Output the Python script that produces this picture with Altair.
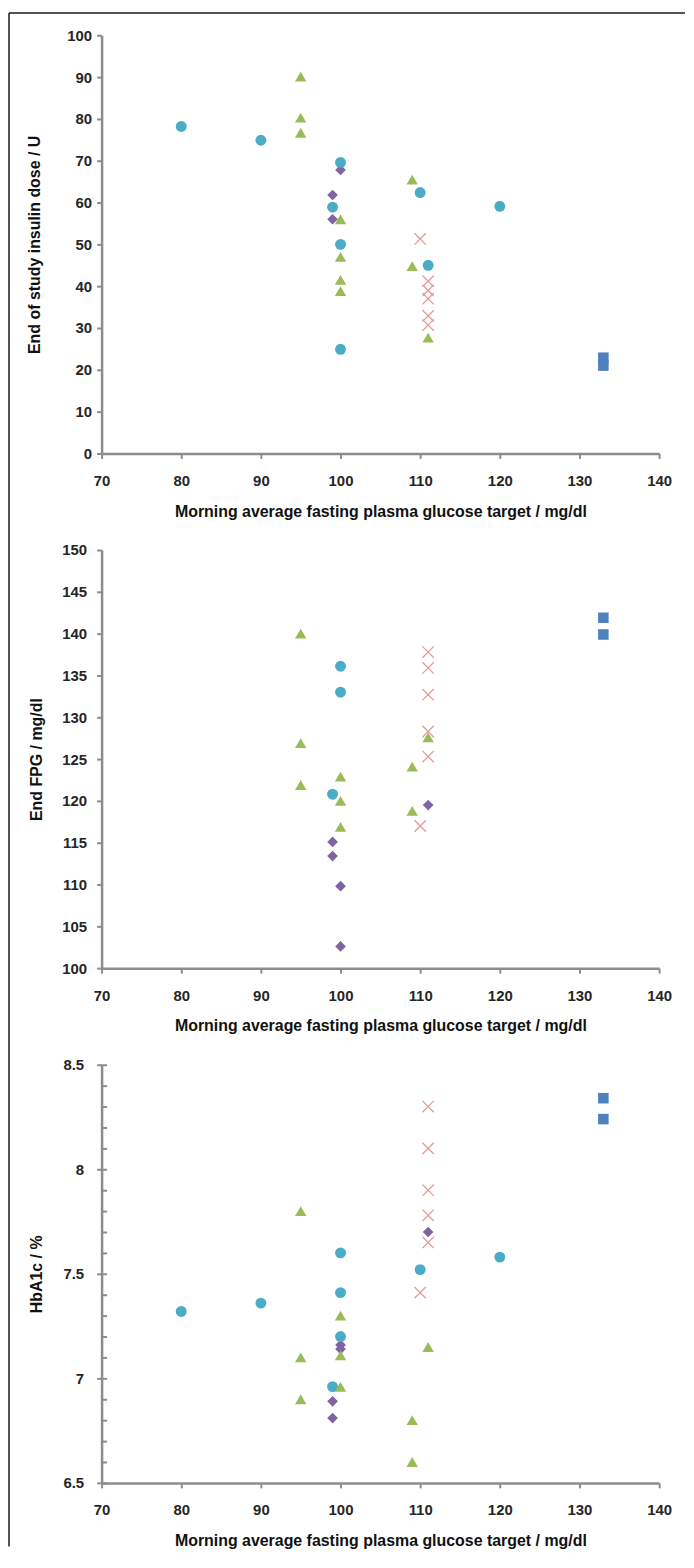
import altair as alt
import pandas as pd

# ---------------- data ----------------
X_TICKS = [70, 80, 90, 100, 110, 120, 130, 140]
X_TITLE = "Morning average fasting plasma glucose target / mg/dl"

# Panel 1: End of study insulin dose / U
p1_circle_x = [80, 90, 100, 99, 100, 100, 110, 111, 120]
p1_circle_y = [78.2, 74.9, 69.6, 58.9, 50.0, 24.9, 62.4, 45.0, 59.1]
p1_triangle_x = [95, 95, 95, 100, 100, 100, 100, 109, 109, 111]
p1_triangle_y = [90.1, 80.3, 76.7, 56.0, 47.0, 41.5, 38.8, 65.5, 44.8, 27.7]
p1_diamond_x = [100, 99, 99]
p1_diamond_y = [67.8, 61.8, 56.0]
p1_cross_x = [110, 111, 111, 111, 111, 111]
p1_cross_y = [51.3, 41.2, 39.0, 37.0, 32.9, 30.7]
p1_square_x = [133, 133]
p1_square_y = [22.9, 21.0]
p1_y_ticks = [0, 10, 20, 30, 40, 50, 60, 70, 80, 90, 100]

# Panel 2: End FPG / mg/dl
p2_circle_x = [100, 100, 99]
p2_circle_y = [136.1, 133.0, 120.8]
p2_triangle_x = [95, 95, 95, 100, 100, 100, 109, 109, 111]
p2_triangle_y = [140.0, 126.9, 121.9, 122.9, 120.0, 116.9, 124.1, 118.8, 127.6]
p2_diamond_x = [99, 99, 100, 100, 111]
p2_diamond_y = [115.1, 113.4, 109.8, 102.6, 119.5]
p2_cross_x = [111, 111, 111, 111, 111, 110]
p2_cross_y = [137.8, 135.9, 132.7, 128.3, 125.3, 117.0]
p2_square_x = [133, 133]
p2_square_y = [141.9, 139.9]
p2_y_ticks = [100, 105, 110, 115, 120, 125, 130, 135, 140, 145, 150]

# Panel 3: HbA1c / %
p3_circle_x = [80, 90, 100, 100, 100, 99, 110, 120]
p3_circle_y = [7.32, 7.36, 7.60, 7.41, 7.20, 6.96, 7.52, 7.58]
p3_triangle_x = [95, 95, 95, 100, 100, 100, 109, 109, 111]
p3_triangle_y = [7.80, 7.10, 6.90, 7.30, 7.11, 6.96, 6.80, 6.60, 7.15]
p3_diamond_x = [100, 100, 99, 99, 111]
p3_diamond_y = [7.16, 7.14, 6.89, 6.81, 7.70]
p3_cross_x = [111, 111, 111, 111, 111, 110]
p3_cross_y = [8.30, 8.10, 7.90, 7.78, 7.65, 7.41]
p3_square_x = [133, 133]
p3_square_y = [8.34, 8.24]
p3_y_ticks = [6.5, 7, 7.5, 8, 8.5]
p3_minor_ticks = [6.5, 6.6, 6.7, 6.8, 6.9, 7.0, 7.1, 7.2, 7.3, 7.4, 7.5,
                  7.6, 7.7, 7.8, 7.9, 8.0, 8.1, 8.2, 8.3, 8.4, 8.5]

# ---------------- style ----------------
FONT = "Liberation Sans"
GREY = "#8c8c8c"
W, H = 560, 420
CROSS = "M-1,-1L1,1M-1,1L1,-1"

STYLES = {
    "diamond": dict(shape="diamond", filled=True, color="#8064A2", size=115),
    "circle": dict(shape="circle", filled=True, color="#4BACC6", size=120),
    "triangle": dict(shape="triangle-up", filled=True, color="#9BBB59", size=130),
    "cross": dict(shape=CROSS, filled=False, color="#E69A9A", size=130, strokeWidth=1.3),
    "square": dict(shape="square", filled=True, color="#4F81BD", size=112),
}


def frame(xs, ys):
    return pd.DataFrame({"x": xs, "y": ys})


def x_enc():
    return alt.X(
        "x:Q",
        scale=alt.Scale(domain=[70, 140], nice=False, zero=False),
        axis=alt.Axis(values=X_TICKS, title=X_TITLE, titleY=58, titleBaseline="middle",
                      titleAlign="center", labelPadding=15, tickSize=5, format="d",
                      labelFlush=False),
    )


def main_y_axis(y_ticks, y_title, title_x, label_pad, fmt):
    return alt.Axis(values=y_ticks, title=y_title, titleX=title_x, titleY=H / 2,
                    titleAngle=-90, titleAlign="center", titleBaseline="middle",
                    labelPadding=label_pad, tickSize=5, format=fmt, labelFlush=False)


def panel(series, y_domain, y_ticks, y_title, label_pad, title_x, fmt, minor=None, extra=None):
    layers = []
    for i, (kind, xs, ys) in enumerate(series):
        st = STYLES[kind]
        if i == 0:
            yaxis = main_y_axis(y_ticks, y_title, title_x, label_pad, fmt)
        elif minor is not None and i == len(series) - 1:
            yaxis = alt.Axis(orient="right", offset=-W, values=minor, labels=False,
                             domain=False, ticks=True, tickSize=5, title=None)
        elif minor is not None:
            yaxis = None
        else:
            yaxis = main_y_axis(y_ticks, y_title, title_x, label_pad, fmt)
        mark = alt.Chart(frame(xs, ys)).mark_point(
            shape=st["shape"], filled=st["filled"], size=st["size"], opacity=1,
            **({"fill": st["color"], "stroke": None} if st["filled"]
               else {"stroke": st["color"], "strokeWidth": st["strokeWidth"]})
        ).encode(
            x=x_enc(),
            y=alt.Y("y:Q", scale=alt.Scale(domain=y_domain, nice=False, zero=False), axis=yaxis),
        )
        layers.append(mark)
    if extra:
        layers.extend(extra)
    ch = alt.layer(*layers).properties(width=W, height=H)
    if minor is not None:
        ch = ch.resolve_axis(y="independent")
    return ch


one = pd.DataFrame({"a": [0]})
border_top = alt.Chart(one).mark_rule(color="#1a1a1a", strokeWidth=1.5).encode(
    x=alt.value(-93), x2=alt.value(586), y=alt.value(-22.5))
border_left = alt.Chart(one).mark_rule(color="#1a1a1a", strokeWidth=1.5).encode(
    x=alt.value(-93), y=alt.value(-22.5), y2=alt.value(1518))

p1 = panel(
    [("diamond", p1_diamond_x, p1_diamond_y),
     ("circle", p1_circle_x, p1_circle_y),
     ("triangle", p1_triangle_x, p1_triangle_y),
     ("cross", p1_cross_x, p1_cross_y),
     ("square", p1_square_x, p1_square_y)],
    [0, 100], p1_y_ticks, "End of study insulin dose / U", 5, -67, "d",
    extra=[border_top, border_left],
)

p2 = panel(
    [("diamond", p2_diamond_x, p2_diamond_y),
     ("circle", p2_circle_x, p2_circle_y),
     ("triangle", p2_triangle_x, p2_triangle_y),
     ("cross", p2_cross_x, p2_cross_y),
     ("square", p2_square_x, p2_square_y)],
    [100, 150], p2_y_ticks, "End FPG / mg/dl", 10, -65, "d",
)

p3 = panel(
    [("diamond", p3_diamond_x, p3_diamond_y),
     ("circle", p3_circle_x, p3_circle_y),
     ("triangle", p3_triangle_x, p3_triangle_y),
     ("cross", p3_cross_x, p3_cross_y),
     ("square", p3_square_x, p3_square_y)],
    [6.5, 8.5], p3_y_ticks, "HbA1c / %", 13, -65, "~g",
    minor=p3_minor_ticks,
)

chart = alt.vconcat(p1, p2, p3, spacing=97, bounds="flush").properties(
    padding=0
).configure_view(stroke=None).configure_axis(
    grid=False,
    labelFont=FONT, titleFont=FONT,
    labelFontWeight="bold", titleFontWeight="bold",
    labelFontSize=15, titleFontSize=16,
    labelColor="#262626", titleColor="#111111",
    domainColor=GREY, tickColor=GREY, domainWidth=2.5, tickWidth=2,
)

chart.save("out.html", embed_options={"renderer": "svg", "actions": False})
